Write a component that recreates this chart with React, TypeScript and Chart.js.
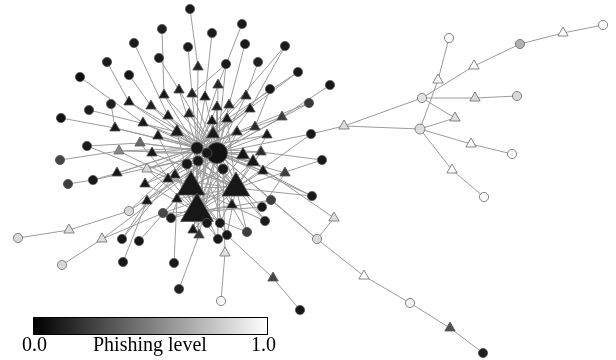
import { useEffect, useRef } from "react";
import { Chart, registerables } from "chart.js";
Chart.register(...registerables);

// Node layout coordinates (graph layout space, y downwards)
const nodeX = [
  217, 197, 207, 187, 198, 223, 191, 236, 197,
  190, 162, 242, 212, 134, 188, 245, 285, 107, 159, 226, 258, 80, 129, 298, 270, 330, 111, 89, 309, 61,
  311, 87, 60, 322, 93, 68, 312, 271, 262, 265, 247, 163, 171, 207, 220, 227, 218, 122, 139, 123,
  174, 179, 300, 129, 18, 62, 221, 317, 449, 520, 603, 422, 517, 420, 512, 484, 410, 483,
  198, 179, 164, 192, 205, 218, 246, 129, 151, 217, 229, 250, 168, 189, 115, 143, 212, 227, 282,
  177, 158, 213, 237, 255, 267, 140, 119, 152, 243, 261, 253, 147, 117, 263, 285, 168, 175, 145,
  147, 177, 232, 193, 199, 69, 102, 225, 273, 334, 563, 474, 438, 475, 455, 344, 471, 452, 364, 450,
];
const nodeY = [
  153, 148, 153, 164, 161, 169, 187, 188, 212,
  9, 29, 24, 33, 43, 47, 44, 46, 62, 58, 64, 62, 77, 75, 72, 89, 85, 104, 110, 103, 118,
  134, 146, 160, 160, 180, 184, 196, 200, 207, 221, 232, 213, 218, 223, 223, 235, 239, 239, 241, 262,
  263, 289, 310, 211, 238, 265, 301, 239, 38, 44, 25, 98, 96, 129, 154, 197, 303, 353,
  67, 90, 95, 94, 97, 85, 96, 102, 106, 107, 105, 109, 116, 114, 128, 123, 121, 119, 117,
  132, 136, 134, 132, 127, 135, 143, 151, 153, 155, 152, 162, 169, 173, 171, 173, 179, 175, 184,
  201, 199, 205, 230, 235, 230, 239, 253, 278, 218, 33, 66, 80, 98, 118, 126, 144, 170, 276, 328,
];
// Phishing level of each node (0 = black, 1 = white)
const nodeLevel = [
  0.04, 0.06, 0.06, 0.06, 0.06, 0.06, 0.06, 0.06, 0.06,
  0.08, 0.1, 0.08, 0.08, 0.08, 0.08, 0.07, 0.08, 0.08, 0.08, 0.07, 0.1, 0.03, 0.05, 0.07, 0.07, 0.06, 0.1, 0.08, 0.2, 0.04,
  0.07, 0.08, 0.25, 0.07, 0.07, 0.22, 0.07, 0.22, 0.06, 0.08, 0.22, 0.25, 0.07, 0.06, 0.06, 0.06, 0.06, 0.06, 0.06, 0.07,
  0.07, 0.1, 0.06, 0.86, 0.86, 0.86, 1.0, 0.86, 1.0, 0.7, 1.0, 0.9, 0.86, 0.88, 1.0, 1.0, 0.97, 0.1,
  0.12, 0.1, 0.06, 0.1, 0.06, 0.12, 0.1, 0.06, 0.1, 0.1, 0.1, 0.06, 0.06, 0.1, 0.06, 0.06, 0.06, 0.06, 0.22,
  0.07, 0.06, 0.07, 0.07, 0.15, 0.06, 0.4, 0.52, 0.06, 0.06, 0.15, 0.06, 0.86, 0.06, 0.06, 0.22, 0.06, 0.06, 0.06,
  0.06, 0.06, 0.06, 0.06, 0.2, 0.88, 0.88, 0.9, 0.25, 0.88, 1.0, 1.0, 1.0, 0.86, 0.88, 0.88, 1.0, 1.0, 1.0, 0.3,
];
// Node kind: c = circle, t = triangle
const nodeShape = (
  "cccccc" + "ttt" +
  "ccccccccccccccccccccc" +
  "cccccccccccccccccccc" +
  "cccccccccccccccccc" +
  "ttttttttttttttttttt" +
  "ttttttttttttttttttt" +
  "tttttttttttttttttttt"
).split("");
// Node weight (degree-based size)
const nodeWeight = [
  10.5, 6, 5, 5, 5, 5, 16, 16, 19,
  4.6, 4.6, 4.6, 4.6, 4.6, 4.6, 4.6, 4.6, 4.6, 4.6, 4.6, 4.6, 4.6, 4.6, 4.6, 4.6, 4.6, 4.6, 4.6, 4.6, 4.6,
  4.6, 4.6, 4.6, 4.6, 4.6, 4.6, 4.6, 4.6, 4.6, 4.6, 4.6, 4.6, 4.6, 4.6, 4.6, 4.6, 4.6, 4.6, 4.6, 4.6,
  4.6, 4.6, 4.6, 4.6, 4.6, 4.6, 4.6, 4.6, 4.6, 4.6, 4.6, 4.6, 4.6, 5, 4.6, 4.6, 4.6, 4.6,
  6, 6, 6, 6, 6, 6, 6, 6, 6, 6, 6, 6, 6, 6, 6, 6, 6, 6, 6,
  7.5, 6, 7.5, 6, 6, 6, 6, 6, 6, 7.5, 6, 7.5, 6, 6, 6, 6, 6, 6, 6,
  6, 6, 6, 6, 6, 6, 6, 6, 6, 6, 6, 6, 6, 6, 6, 6, 6, 6, 6, 6,
];
// Edges
const edgeFrom = [
  9, 68, 10, 70, 18, 69, 11, 73, 12, 72, 13, 80, 14, 71, 15, 78, 16, 79, 17, 75, 22, 76, 19, 19, 20, 74,
  21, 83, 23, 85, 24, 91, 25, 86, 26, 27, 87, 29, 82, 30, 30, 31, 93, 32, 94, 33, 97, 34, 100, 35, 36, 101,
  37, 38, 102, 39, 40, 41, 42, 43, 44, 45, 46, 47, 49, 106, 50, 107, 51, 110, 52, 114, 53, 111, 55, 112,
  56, 113, 57, 124, 66, 125, 57, 115, 121, 121, 58, 118, 61, 117, 59, 116, 61, 119, 61, 63, 63, 122, 63, 123,
  77, 81, 84, 89, 90, 88, 95, 96, 98, 99, 103, 104, 105, 108, 109, 92, 28, 28, 1, 1, 2, 3, 4, 5, 6, 7, 8,
  6, 6, 7, 3, 4, 5, 1, 2, 41, 42, 48, 47, 53, 53, 99, 112, 100, 34, 105, 106, 40, 39, 38, 37, 36, 101,
  69, 70, 71, 72, 73, 74, 75, 76, 77, 78, 79, 80, 81, 82, 83, 84, 85, 86, 87, 88, 89, 90, 91, 92, 93, 94,
  95, 96, 97, 98, 43, 44, 45, 46, 109, 110, 57, 23, 24, 16,
  96, 98, 101, 92, 97, 108, 107, 104, 103, 105, 95, 88, 89, 87, 90, 84, 85, 42, 43, 44, 41, 39, 38, 40,
  36, 37, 33, 30, 2, 4, 5, 3, 6, 2, 99, 94, 93, 31, 109, 110, 46, 45,
];
const edgeTo = [
  68, 1, 70, 0, 69, 1, 73, 0, 72, 0, 80, 1, 71, 1, 78, 0, 79, 0, 75, 1, 76, 0, 71, 0, 74, 0,
  83, 1, 85, 0, 91, 0, 86, 0, 82, 87, 0, 82, 1, 121, 0, 93, 0, 94, 1, 97, 0, 100, 1, 34, 101, 0,
  57, 102, 0, 7, 7, 8, 8, 8, 7, 7, 8, 106, 106, 1, 107, 0, 110, 0, 114, 45, 111, 54, 112, 41,
  113, 5, 124, 66, 125, 67, 115, 96, 61, 63, 118, 63, 117, 59, 116, 60, 119, 62, 120, 120, 122, 64, 123, 65,
  0, 0, 0, 0, 0, 1, 1, 0, 0, 1, 1, 0, 1, 0, 8, 0, 0, 1, 6, 7, 8, 8, 7, 6, 7, 8, 0,
  0, 1, 1, 7, 7, 8, 8, 7, 0, 1, 0, 1, 0, 1, 0, 0, 1, 0, 0, 0, 1, 0, 1, 0, 0, 1,
  0, 1, 0, 1, 1, 1, 0, 1, 1, 1, 1, 0, 0, 0, 0, 1, 1, 1, 1, 0, 1, 1, 1, 1, 0, 0,
  0, 1, 1, 1, 1, 0, 1, 0, 0, 1, 0, 1, 1, 1,
  8, 8, 7, 7, 7, 8, 7, 8, 7, 8, 7, 8, 8, 8, 8, 7, 7, 7, 6, 6, 7, 6, 8, 8,
  7, 8, 7, 7, 8, 7, 6, 7, 8, 6, 8, 6, 8, 6, 7, 6, 6, 6,
];
const barMin = "0.0";
const barMax = "1.0";
const barTitle = "Phishing level";

function grayOf(level: number) {
  const g = Math.round(8 + level * (250 - 8));
  return `rgb(${g},${g},${g})`;
}

const serif = "'Liberation Serif', 'Times New Roman', 'DejaVu Serif', serif";

export default function App() {
  const ref = useRef<HTMLCanvasElement | null>(null);
  useEffect(() => {
    document.body.style.margin = "0";
    const canvas = ref.current;
    if (!canvas) return;
    const points = nodeX.map((x, i) => ({ x, y: nodeY[i] }));
    const edgeSets = edgeFrom.map((a, k) => ({
      data: [points[a], points[edgeTo[k]]],
      showLine: true,
      borderColor: "rgb(155,155,155)",
      borderWidth: 1,
      pointRadius: 0,
      order: 2,
    }));
    const nodeSet = {
      data: points,
      pointStyle: nodeShape.map((s) => (s === "t" ? "triangle" : "circle")),
      pointRadius: nodeWeight,
      backgroundColor: nodeLevel.map(grayOf),
      borderColor: nodeLevel.map((l) => (l > 0.5 ? "#6a6a6a" : "#555")),
      borderWidth: 0.8,
      clip: false,
      order: 0,
    };
    const chart = new Chart(canvas, {
      type: "scatter",
      data: { datasets: [nodeSet as any, ...(edgeSets as any)] },
      options: {
        responsive: false,
        animation: false,
        events: [],
        layout: { padding: 0, autoPadding: false },
        plugins: { legend: { display: false }, tooltip: { enabled: false } },
        scales: {
          x: { type: "linear", display: false, min: 0, max: 616 },
          y: { type: "linear", display: false, min: 0, max: 360, reverse: true },
        },
      },
    });
    return () => chart.destroy();
  }, []);
  const label: any = {
    position: "absolute",
    top: 333,
    fontFamily: serif,
    fontSize: 20,
    lineHeight: "22px",
    color: "#000",
    whiteSpace: "nowrap",
  };
  return (
    <div style={{ position: "relative", width: 616, height: 360, background: "#fff", overflow: "hidden" }}>
      <canvas ref={ref} width={616} height={360} style={{ display: "block" }} />
      <div
        style={{
          position: "absolute",
          left: 33,
          top: 317,
          width: 233,
          height: 16,
          border: "1px solid #000",
          background: "linear-gradient(to right, #000, #fff)",
        }}
      />
      <div style={{ ...label, left: 22 }}>{barMin}</div>
      <div style={{ ...label, left: 93 }}>{barTitle}</div>
      <div style={{ ...label, left: 251 }}>{barMax}</div>
    </div>
  );
}
